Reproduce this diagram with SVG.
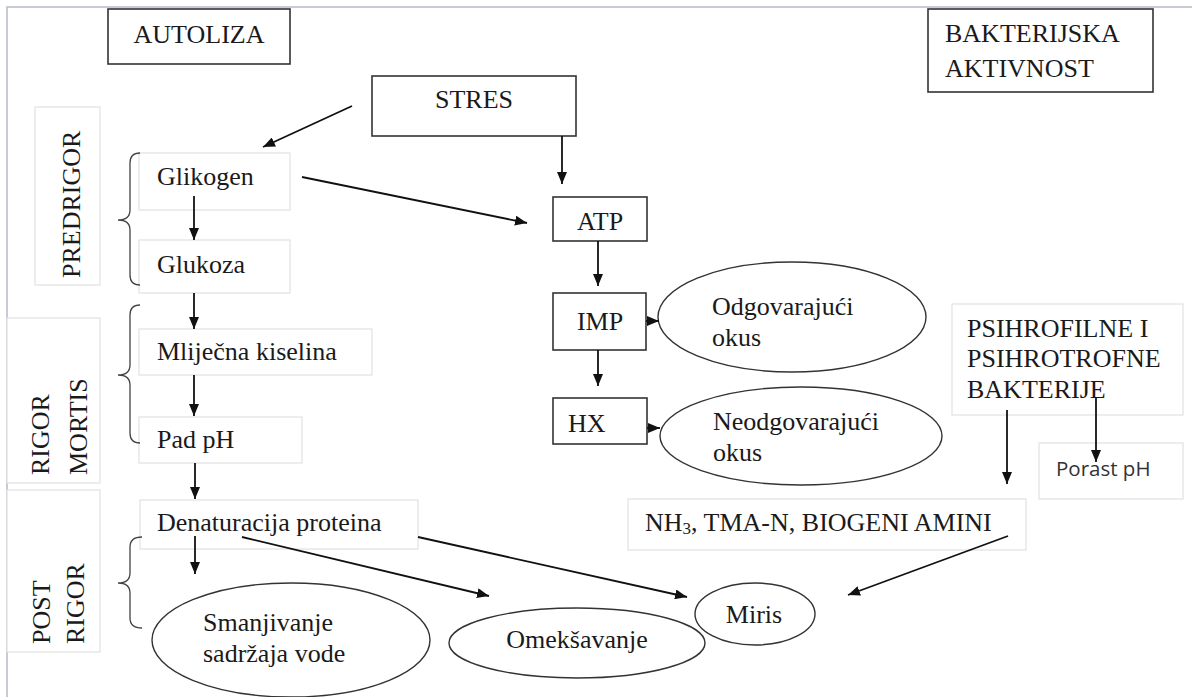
<svg xmlns="http://www.w3.org/2000/svg" width="1192" height="697" viewBox="0 0 1192 697">
<style>
.t{font-family:'Liberation Serif','DejaVu Serif',serif;font-size:26px;fill:#1a1a1a}
.s{font-family:'Open Sans',Lato,sans-serif;font-size:20.5px;fill:#333}
.hb{fill:#fff;stroke:#333;stroke-width:1.6}
.lb{fill:#fff;stroke:#e2e2e2;stroke-width:1.2}
.el{fill:#fff;stroke:#333;stroke-width:1.4}
.br{fill:none;stroke:#444;stroke-width:1.3}
.c line{stroke:#111;stroke-width:1.8;marker-end:url(#ah)}
</style>
<defs>
<marker id="ah" viewBox="0 0 12 10" refX="12" refY="5" markerWidth="12" markerHeight="10" markerUnits="userSpaceOnUse" orient="auto">
<path d="M0,0 L12,5 L0,10 z" fill="#111"/>
</marker>
</defs>
<rect width="1192" height="697" fill="#fff"/>
<path d="M7,697 V7 H1192" fill="none" stroke="#b9b9c9" stroke-width="1.5"/>

<g id="autoliza"><rect class="hb" x="108" y="9" width="182" height="55"/><text class="t" x="199" y="43" text-anchor="middle">AUTOLIZA</text></g>
<g id="bakterijska"><rect class="hb" x="928" y="9" width="225" height="83"/><text class="t" x="945" y="42">BAKTERIJSKA</text><text class="t" x="945" y="77">AKTIVNOST</text></g>
<g id="stres"><rect class="hb" x="372" y="76" width="204" height="60"/><text class="t" x="474" y="108" text-anchor="middle">STRES</text></g>
<g id="atp"><rect class="hb" x="553" y="197" width="94" height="44"/><text class="t" x="600" y="230" text-anchor="middle">ATP</text></g>
<g id="imp"><rect class="hb" x="553" y="293" width="93" height="57"/><text class="t" x="600" y="330" text-anchor="middle">IMP</text></g>
<g id="hx"><rect class="hb" x="553" y="398" width="94" height="46"/><text class="t" x="568" y="432">HX</text></g>
<g id="odgovarajuci"><ellipse class="el" cx="792" cy="317" rx="134" ry="55"/><text class="t" x="712" y="315">Odgovarajući</text><text class="t" x="712" y="346">okus</text></g>
<g id="neodgovarajuci"><ellipse class="el" cx="801" cy="436" rx="141" ry="49"/><text class="t" x="713" y="430">Neodgovarajući</text><text class="t" x="713" y="461">okus</text></g>

<g id="predrigor"><rect class="lb" x="35" y="107" width="65" height="178"/><text class="t" transform="translate(80,278) rotate(-90)">PREDRIGOR</text></g>
<g id="rigor-mortis"><rect class="lb" x="7" y="318" width="93" height="165"/><text class="t" transform="translate(49,475) rotate(-90)">RIGOR</text><text class="t" transform="translate(87,475) rotate(-90)">MORTIS</text></g>
<g id="post-rigor"><rect class="lb" x="7" y="490" width="93" height="162"/><text class="t" transform="translate(50,644) rotate(-90)">POST</text><text class="t" transform="translate(84,644) rotate(-90)">RIGOR</text></g>

<g id="glikogen"><rect class="lb" x="139" y="153" width="151" height="57"/><text class="t" x="157" y="185">Glikogen</text></g>
<g id="glukoza"><rect class="lb" x="139" y="240" width="151" height="53"/><text class="t" x="157" y="273">Glukoza</text></g>
<g id="mlijecna"><rect class="lb" x="139" y="329" width="233" height="46"/><text class="t" x="157" y="360">Mliječna kiselina</text></g>
<g id="pad-ph"><rect class="lb" x="139" y="417" width="163" height="46"/><text class="t" x="157" y="448">Pad pH</text></g>
<g id="denaturacija"><rect class="lb" x="140" y="500" width="278" height="49"/><text class="t" x="157" y="531">Denaturacija proteina</text></g>
<g id="smanjivanje"><ellipse class="el" cx="291" cy="640" rx="139" ry="57"/><text class="t" x="203" y="631">Smanjivanje</text><text class="t" x="203" y="662">sadržaja vode</text></g>
<g id="omeksavanje"><ellipse class="el" cx="577" cy="643" rx="128" ry="35"/><text class="t" x="577" y="648" text-anchor="middle">Omekšavanje</text></g>
<g id="miris"><ellipse class="el" cx="755" cy="614" rx="60" ry="31"/><text class="t" x="754" y="623" text-anchor="middle">Miris</text></g>

<g id="psihro"><rect class="lb" x="952" y="304" width="231" height="111"/><text class="t" x="967" y="337">PSIHROFILNE I</text><text class="t" x="967" y="367">PSIHROTROFNE</text><text class="t" x="967" y="398">BAKTERIJE</text></g>
<g id="porast"><rect class="lb" x="1039" y="443" width="144" height="56"/><text class="s" x="1056" y="476">Porast pH</text></g>
<g id="nh3"><rect class="lb" x="628" y="499" width="398" height="51"/><text class="t" x="645" y="531">NH<tspan font-size="17" dy="3">3</tspan><tspan dy="-3">, TMA-N, BIOGENI AMINI</tspan></text></g>

<g id="braces">
<path class="br" d="M140,153 Q130,153 130,163 V210 Q130,220 118,220 Q130,220 130,230 V275 Q130,285 140,285"/>
<path class="br" d="M140,305 Q130,305 130,315 V365 Q130,375 118,375 Q130,375 130,385 V433 Q130,443 140,443"/>
<path class="br" d="M142,537 Q130,537 130,547 V573 Q130,583 118,583 Q130,583 130,593 V618 Q130,628 142,628"/>
</g>

<g class="c" id="connectors">
<line x1="352" y1="106" x2="263" y2="147"/>
<line x1="562" y1="136" x2="562" y2="184"/>
<line x1="302" y1="177" x2="527" y2="223"/>
<line x1="598" y1="241" x2="598" y2="286"/>
<line x1="598" y1="350" x2="598" y2="386"/>
<line x1="646" y1="321" x2="659" y2="321"/>
<line x1="647" y1="428" x2="660" y2="428"/>
<line x1="194" y1="196" x2="194" y2="240"/>
<line x1="194" y1="293" x2="194" y2="329"/>
<line x1="194" y1="375" x2="194" y2="416"/>
<line x1="195" y1="463" x2="195" y2="499"/>
<line x1="195" y1="536" x2="195" y2="574"/>
<line x1="242" y1="537" x2="489" y2="596"/>
<line x1="418" y1="537" x2="687" y2="597"/>
<line x1="1008" y1="536" x2="848" y2="595"/>
<line x1="1007" y1="410" x2="1007" y2="484"/>
<line x1="1096" y1="397" x2="1096" y2="462"/>
</g>
</svg>
